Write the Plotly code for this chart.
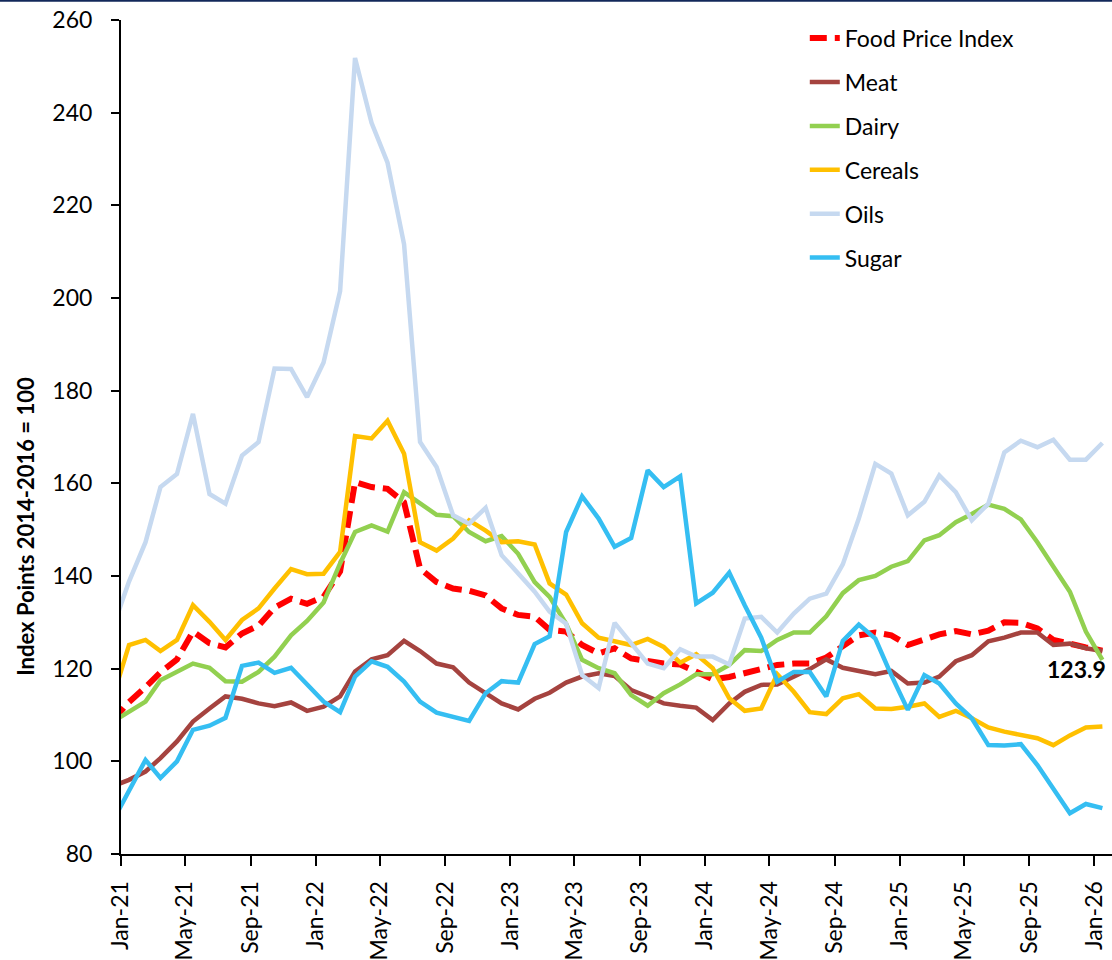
import pandas as pd
import plotly.graph_objects as go

# monthly points, plotted mid-month (Dec-20 point sits left of the axis and gets clipped)
months = pd.date_range("2020-12-01", "2026-01-01", freq="MS") + pd.Timedelta(days=15)

food_price_index = [108.8, 112.8, 116.0, 119.2, 122.0, 128.0, 125.5, 124.6, 127.6, 129.3, 133.2, 135.1, 134.0,
                    135.5, 141.0, 160.3, 159.2, 158.8, 155.9, 141.6, 138.7, 137.3, 136.8, 135.8, 133.0,
                    131.6, 131.2, 128.4, 128.0, 125.1, 123.3, 124.4, 122.2, 121.6, 121.1, 120.9, 119.3,
                    117.7, 118.2, 119.1, 120.1, 120.8, 121.1, 121.1, 122.4, 125.0, 127.2, 127.8, 127.2,
                    125.1, 126.3, 127.4, 128.1, 127.4, 128.2, 130.0, 129.9, 128.7, 126.2, 125.3, 124.6,
                    123.9]
meat = [94.6, 96.0, 97.8, 100.7, 104.3, 108.6, 111.4, 114.0, 113.5, 112.5, 111.9, 112.7, 110.9,
        111.8, 114.0, 119.4, 122.0, 122.9, 126.0, 123.8, 121.1, 120.3, 117.0, 114.7, 112.5,
        111.2, 113.5, 114.8, 117.0, 118.3, 119.0, 118.4, 115.4, 114.0, 112.5, 112.0, 111.6,
        108.9, 112.5, 115.0, 116.5, 116.6, 118.3, 119.9, 122.0, 120.2, 119.5, 118.8, 119.5,
        116.8, 117.0, 118.3, 121.6, 122.9, 125.9, 126.7, 127.8, 127.8, 125.1, 125.4, 124.4,
        123.8]
dairy = [108.5, 110.7, 112.9, 117.5, 119.3, 121.1, 120.2, 117.3, 117.2, 119.3, 122.6, 127.2, 130.3,
         134.3, 142.7, 149.5, 150.9, 149.6, 158.1, 155.6, 153.2, 152.9, 149.5, 147.5, 148.6,
         144.8, 138.7, 135.5, 129.7, 121.9, 120.1, 119.0, 114.3, 112.0, 114.7, 116.6, 118.8,
         118.8, 120.8, 124.0, 123.8, 126.2, 127.8, 127.8, 131.3, 136.3, 139.1, 140.0, 142.0,
         143.2, 147.7, 148.8, 151.6, 153.4, 155.4, 154.5, 152.2, 147.3, 142.0, 136.6, 128.0,
         121.9]
cereals = [113.5, 125.1, 126.2, 123.8, 126.2, 133.7, 130.1, 126.2, 130.5, 133.0, 137.3, 141.5, 140.4,
           140.5, 145.2, 170.2, 169.7, 173.5, 166.4, 147.3, 145.5, 148.1, 152.0, 149.8, 147.3,
           147.5, 146.8, 138.4, 136.0, 129.8, 126.7, 125.8, 125.1, 126.4, 124.7, 121.3, 123.1,
           120.1, 113.6, 110.9, 111.4, 118.8, 115.0, 110.6, 110.2, 113.6, 114.5, 111.4, 111.3,
           111.8, 112.5, 109.6, 110.9, 109.3, 107.3, 106.4, 105.6, 105.0, 103.5, 105.6, 107.3,
           107.5]
oils = [128.6, 138.8, 147.3, 159.2, 162.0, 175.0, 157.7, 155.6, 166.0, 168.9, 184.8, 184.7, 178.6,
        186.1, 201.5, 251.8, 237.8, 229.2, 211.6, 168.9, 163.5, 153.1, 151.3, 154.7, 144.5,
        140.5, 136.6, 132.3, 129.7, 118.6, 115.8, 129.9, 125.6, 121.1, 120.1, 124.2, 122.6,
        122.6, 120.9, 130.8, 131.2, 127.8, 131.9, 135.1, 136.2, 142.5, 152.4, 164.2, 162.1,
        153.1, 156.0, 161.7, 158.1, 152.0, 155.6, 166.7, 169.2, 167.8, 169.4, 165.1, 165.1,
        168.7]
sugar = [87.0, 93.6, 100.3, 96.4, 100.0, 106.8, 107.7, 109.4, 120.6, 121.3, 119.1, 120.2, 116.5,
         112.9, 110.6, 118.3, 121.6, 120.4, 117.2, 112.9, 110.5, 109.6, 108.7, 114.7, 117.3,
         117.0, 125.3, 127.0, 149.5, 157.2, 152.4, 146.3, 148.2, 162.8, 159.2, 161.5, 134.1,
         136.4, 140.7, 133.7, 126.7, 117.2, 119.3, 119.3, 114.0, 126.0, 129.5, 126.5, 118.6,
         111.1, 118.6, 116.8, 112.5, 109.3, 103.5, 103.4, 103.7, 99.2, 94.1, 88.8, 90.8,
         89.9]

FONT = "Lato"

fig = go.Figure()

def add_line(fig, y, name, color, width=4.5, dash=None):
    fig.add_trace(go.Scatter(x=months, y=y, name=name, mode="lines", legendgroup=name,
                             line=dict(color=color, width=width, dash=dash)))

add_line(fig, food_price_index, "Food Price Index", "#FF0000", width=6, dash="17px,8px")
add_line(fig, meat, "Meat", "#A5433F")
add_line(fig, dairy, "Dairy", "#92D050")
add_line(fig, cereals, "Cereals", "#FFC000")
add_line(fig, oils, "Oils", "#C6D9F0")
add_line(fig, sugar, "Sugar", "#35BEF2")

# last value label
fig.add_annotation(x=months[-1], y=food_price_index[-1], text=f"<b>{food_price_index[-1]}</b>",
                   showarrow=False, xanchor="right", yanchor="top", xshift=6, yshift=-2,
                   font=dict(family=FONT, size=23, color="black"))

# y title sits lower than the axis middle in the original
fig.add_annotation(xref="paper", yref="paper", x=-0.0959, y=0.3935, text="<b>Index Points 2014-2016 = 100</b>",
                   textangle=-90, showarrow=False, xanchor="center", yanchor="middle",
                   font=dict(family=FONT, size=22, color="black"))

# thin navy rule at the very top
fig.add_shape(type="line", xref="paper", yref="paper", x0=-0.1221, x1=1, y0=1.0231, y1=1.0231,
              line=dict(color="#12285A", width=2))

fig.update_xaxes(type="date", range=["2021-01-01", "2026-02-03"], tick0="2021-01-01", dtick="M4",
                 tickformat="%b-%y", tickangle=-90, ticks="outside", ticklen=10, tickwidth=2,
                 tickcolor="black", showline=True, linecolor="black", linewidth=2, showgrid=False,
                 zeroline=False, ticklabelstandoff=6,
                 tickfont=dict(family=FONT, size=23, color="black"))
fig.update_yaxes(range=[80, 260], dtick=20, ticks="outside", ticklen=8, tickwidth=2, tickcolor="black",
                 showline=True, linecolor="black", linewidth=2, showgrid=False, zeroline=False,
                 ticklabelstandoff=14, tickfont=dict(family=FONT, size=23, color="black"))

fig.update_layout(width=1112, height=960, margin=dict(l=121, r=0, t=20, b=104),
                  plot_bgcolor="white", paper_bgcolor="white",
                  legend=dict(x=0.690, y=1.004, xanchor="left", yanchor="top", bgcolor="rgba(0,0,0,0)",
                              tracegroupgap=11, font=dict(family=FONT, size=23, color="black")))

fig.write_html("out.html", config={"displayModeBar": False},
               post_script="document.body.style.margin='0';document.body.style.overflow='hidden';")
